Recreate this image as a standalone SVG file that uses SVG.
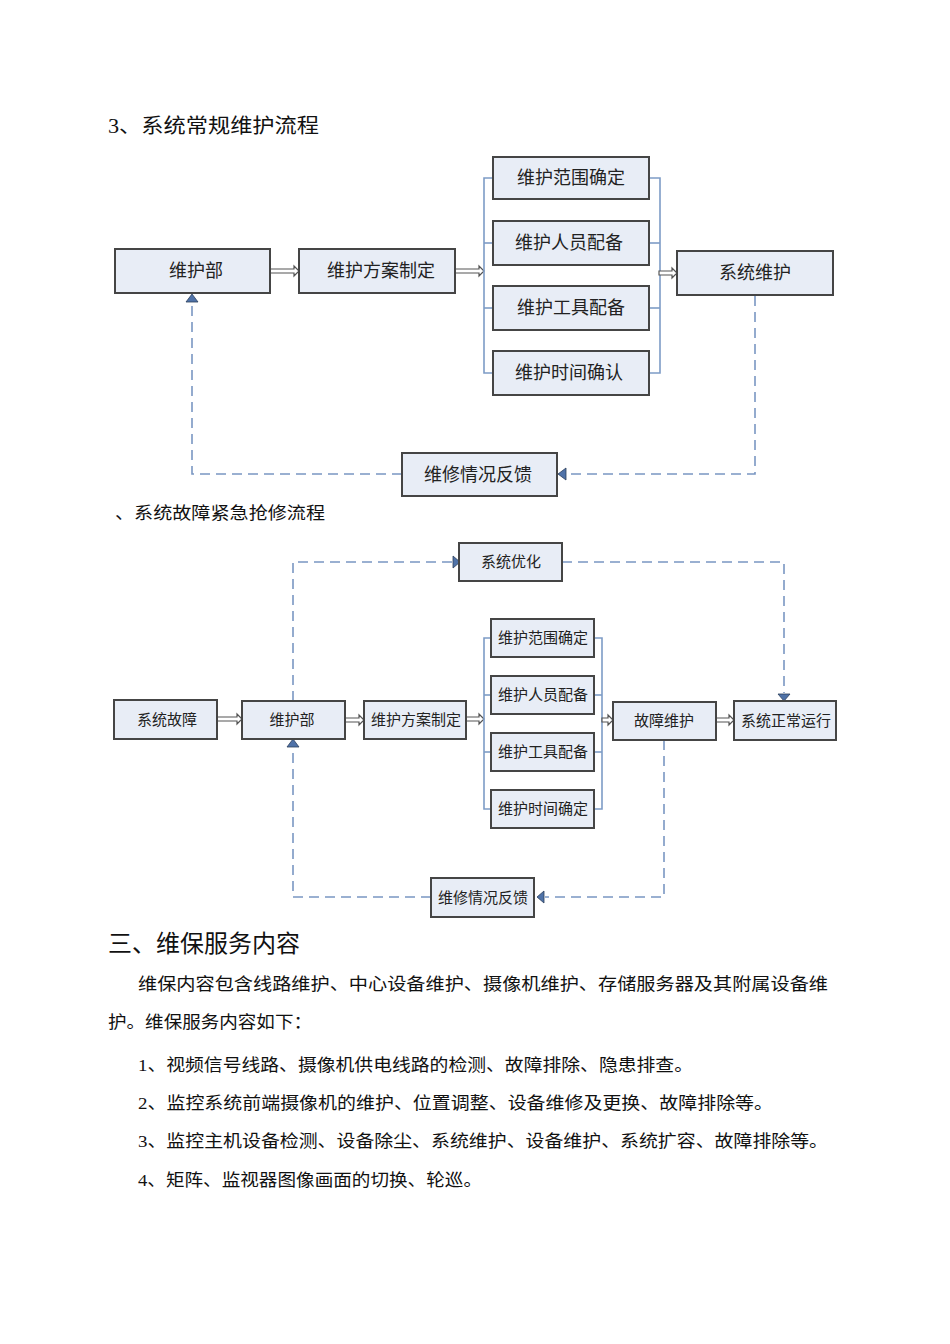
<svg xmlns="http://www.w3.org/2000/svg" width="950" height="1344" viewBox="0 0 950 1344">
<defs>
<style>
.bx{fill:#e8edf6;stroke:#454545;stroke-width:2}
.t1{font-family:"Noto Sans CJK SC","Noto Sans",sans-serif;font-size:18px;fill:#222;text-anchor:middle}
.t2{font-family:"Noto Sans CJK SC","Noto Sans",sans-serif;font-size:15px;fill:#222;text-anchor:middle}
.br{fill:none;stroke:#7d9cc6;stroke-width:1.6}
.ds{fill:none;stroke:#7a97c2;stroke-width:1.6;stroke-dasharray:10 6}
.ha{fill:#fff;stroke:#555;stroke-width:1.2}
.ah{fill:#4f72a8;stroke:#2c3f5c;stroke-width:0.8}
.doc{font-family:"Liberation Serif","Noto Sans CJK SC",serif;fill:#111}
</style>
</defs>
<rect width="950" height="1344" fill="#fff"/>

<text class="doc" x="108" y="133" font-size="20" textLength="211" lengthAdjust="spacingAndGlyphs">3、系统常规维护流程</text>

<g id="connectors1">
<polygon class="ha" points="270,269 294,269 294,266 299,271 294,276 294,273 270,273"/>
<polygon class="ha" points="455,269 479,269 479,266 484,271 479,276 479,273 455,273"/>
<polyline class="br" points="493,178 484,178 484,373 493,373"/>
<line class="br" x1="484" y1="243" x2="493" y2="243"/>
<line class="br" x1="484" y1="308" x2="493" y2="308"/>
<polyline class="br" points="649,178 660,178 660,373 649,373"/>
<line class="br" x1="649" y1="243" x2="660" y2="243"/>
<line class="br" x1="649" y1="308" x2="660" y2="308"/>
<polygon class="ha" points="659,271 672,271 672,268 677,273 672,278 672,275 659,275"/>
<polyline class="ds" points="755,296 755,474 566,474"/>
<polygon class="ah" points="558,474 566,468 566,480"/>
<polyline class="ds" points="402,474 192,474 192,302"/>
<polygon class="ah" points="192,294 186,302 198,302"/>
</g>

<g id="n1-bumen"><rect class="bx" x="115" y="249" width="155" height="44"/><text class="t1" x="196" y="277">维护部</text></g>
<g id="n1-fangan"><rect class="bx" x="299" y="249" width="156" height="44"/><text class="t1" x="381" y="277">维护方案制定</text></g>
<g id="n1-fanwei"><rect class="bx" x="493" y="157" width="156" height="42"/><text class="t1" x="571" y="184">维护范围确定</text></g>
<g id="n1-renyuan"><rect class="bx" x="493" y="221" width="156" height="44"/><text class="t1" x="569" y="249">维护人员配备</text></g>
<g id="n1-gongju"><rect class="bx" x="493" y="286" width="156" height="44"/><text class="t1" x="571" y="314">维护工具配备</text></g>
<g id="n1-shijian"><rect class="bx" x="493" y="351" width="156" height="44"/><text class="t1" x="569" y="379">维护时间确认</text></g>
<g id="n1-xitong"><rect class="bx" x="677" y="251" width="156" height="44"/><text class="t1" x="755" y="279">系统维护</text></g>
<g id="n1-fankui"><rect class="bx" x="402" y="453" width="155" height="43"/><text class="t1" x="478" y="481">维修情况反馈</text></g>

<text class="doc" x="115" y="519" font-size="17.5" textLength="210" lengthAdjust="spacingAndGlyphs">、系统故障紧急抢修流程</text>

<g id="connectors2">
<polygon class="ha" points="217,717 237,717 237,714 242,719 237,724 237,721 217,721"/>
<polygon class="ha" points="345,718 359,718 359,715 364,720 359,725 359,722 345,722"/>
<polygon class="ha" points="466,717 479,717 479,714 484,719 479,724 479,721 466,721"/>
<polyline class="br" points="491,638 484,638 484,809 491,809"/>
<line class="br" x1="484" y1="695" x2="491" y2="695"/>
<line class="br" x1="484" y1="752" x2="491" y2="752"/>
<polyline class="br" points="594,638 602,638 602,809 594,809"/>
<line class="br" x1="594" y1="695" x2="602" y2="695"/>
<line class="br" x1="594" y1="752" x2="602" y2="752"/>
<polygon class="ha" points="602,718 608,718 608,715 613,720 608,725 608,722 602,722"/>
<polygon class="ha" points="716,718 729,718 729,715 734,720 729,725 729,722 716,722"/>
<polyline class="ds" points="293,701 293,562 452,562"/>
<polygon class="ah" points="460,562 453,556 453,568"/>
<polyline class="ds" points="562,562 784,562 784,693"/>
<polygon class="ah" points="784,701 778,694 790,694"/>
<polyline class="ds" points="664,740 664,897 545,897"/>
<polygon class="ah" points="537,897 544,891 544,903"/>
<polyline class="ds" points="431,897 293,897 293,747"/>
<polygon class="ah" points="293,739 287,747 299,747"/>
</g>

<g id="n2-guzhang"><rect class="bx" x="114" y="700" width="103" height="39"/><text class="t2" x="167" y="725">系统故障</text></g>
<g id="n2-bumen"><rect class="bx" x="242" y="701" width="103" height="38"/><text class="t2" x="292" y="725">维护部</text></g>
<g id="n2-fangan"><rect class="bx" x="364" y="701" width="102" height="38"/><text class="t2" x="416" y="725">维护方案制定</text></g>
<g id="n2-youhua"><rect class="bx" x="459" y="543" width="103" height="38"/><text class="t2" x="511" y="567">系统优化</text></g>
<g id="n2-fanwei"><rect class="bx" x="491" y="619" width="103" height="38"/><text class="t2" x="543" y="643">维护范围确定</text></g>
<g id="n2-renyuan"><rect class="bx" x="491" y="676" width="103" height="38"/><text class="t2" x="543" y="700">维护人员配备</text></g>
<g id="n2-gongju"><rect class="bx" x="491" y="733" width="103" height="38"/><text class="t2" x="543" y="757">维护工具配备</text></g>
<g id="n2-shijian"><rect class="bx" x="491" y="790" width="103" height="38"/><text class="t2" x="543" y="814">维护时间确定</text></g>
<g id="n2-guzhangweihu"><rect class="bx" x="613" y="702" width="103" height="38"/><text class="t2" x="664" y="726">故障维护</text></g>
<g id="n2-zhengchang"><rect class="bx" x="734" y="701" width="102" height="39"/><text class="t2" x="786" y="726">系统正常运行</text></g>
<g id="n2-fankui"><rect class="bx" x="431" y="878" width="103" height="39"/><text class="t2" x="483" y="903">维修情况反馈</text></g>

<text class="doc" x="108" y="952" font-size="24">三、维保服务内容</text>
<text class="doc" x="138" y="990" font-size="17.5" textLength="690" lengthAdjust="spacingAndGlyphs">维保内容包含线路维护、中心设备维护、摄像机维护、存储服务器及其附属设备维</text>
<text class="doc" x="108" y="1028" font-size="17.5" textLength="204" lengthAdjust="spacingAndGlyphs">护。维保服务内容如下：</text>
<text class="doc" x="138" y="1071" font-size="17.5" textLength="555" lengthAdjust="spacingAndGlyphs">1、视频信号线路、摄像机供电线路的检测、故障排除、隐患排查。</text>
<text class="doc" x="138" y="1109" font-size="17.5" textLength="635" lengthAdjust="spacingAndGlyphs">2、监控系统前端摄像机的维护、位置调整、设备维修及更换、故障排除等。</text>
<text class="doc" x="138" y="1147" font-size="17.5" textLength="690" lengthAdjust="spacingAndGlyphs">3、监控主机设备检测、设备除尘、系统维护、设备维护、系统扩容、故障排除等。</text>
<text class="doc" x="138" y="1186" font-size="17.5" textLength="344" lengthAdjust="spacingAndGlyphs">4、矩阵、监视器图像画面的切换、轮巡。</text>
</svg>
